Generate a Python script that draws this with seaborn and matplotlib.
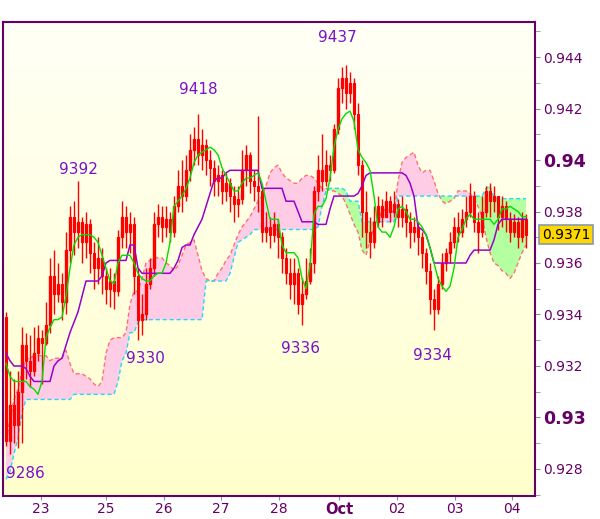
import numpy as np
import pandas as pd
import matplotlib
matplotlib.use("Agg")
import matplotlib.pyplot as plt
import seaborn as sns
from matplotlib.colors import LinearSegmentedColormap

# ==========================================
# Data (prices in pips: 9371 -> 0.9371)
# ==========================================
first_open = 9339

close = [9291, 9305, 9297, 9310, 9328, 9322, 9318, 9325, 9331, 9329,
         9336, 9355, 9348, 9352, 9345, 9365, 9378, 9372, 9376, 9368,
         9375, 9364, 9358, 9362, 9355, 9350, 9353, 9349, 9370, 9378,
         9372, 9375, 9355, 9338, 9340, 9352, 9358, 9375, 9378, 9374,
         9377, 9372, 9382, 9390, 9386, 9396, 9404, 9408, 9402, 9406,
         9400, 9397, 9392, 9394, 9388, 9391, 9386, 9383, 9385, 9396,
         9402, 9392, 9390, 9388, 9372, 9374, 9371, 9375, 9370, 9362,
         9356, 9352, 9356, 9344, 9348, 9353, 9360, 9388, 9396, 9392,
         9398, 9396, 9412, 9428, 9432, 9426, 9430, 9418, 9398, 9380,
         9372, 9368, 9376, 9382, 9378, 9384, 9380, 9383, 9378, 9381,
         9376, 9372, 9374, 9370, 9364, 9357, 9346, 9342, 9352, 9360,
         9364, 9368, 9374, 9372, 9377, 9380, 9386, 9376, 9372, 9380,
         9388, 9384, 9386, 9378, 9382, 9377, 9372, 9376, 9370, 9377,
         9371]

high = [9341, 9318, 9315, 9318, 9335, 9333, 9332, 9335, 9336, 9334,
        9345, 9362, 9365, 9360, 9356, 9372, 9382, 9384, 9392, 9378,
        9380, 9377, 9368, 9370, 9366, 9358, 9358, 9356, 9373, 9384,
        9382, 9380, 9378, 9358, 9348, 9358, 9362, 9380, 9383, 9382,
        9382, 9380, 9386, 9396, 9400, 9402, 9410, 9413, 9418, 9412,
        9408, 9404, 9400, 9398, 9396, 9395, 9393, 9390, 9390, 9404,
        9406, 9403, 9396, 9417, 9390, 9380, 9378, 9380, 9377, 9372,
        9366, 9362, 9362, 9358, 9354, 9362, 9366, 9390, 9402, 9410,
        9404, 9402, 9414, 9432, 9436, 9437, 9434, 9432, 9422, 9400,
        9388, 9378, 9382, 9386, 9385, 9388, 9386, 9388, 9385, 9386,
        9383, 9380, 9378, 9376, 9372, 9366, 9360, 9350, 9355, 9364,
        9366, 9372, 9378, 9380, 9381, 9386, 9391, 9388, 9380, 9386,
        9390, 9391, 9390, 9386, 9386, 9384, 9380, 9379, 9378, 9380,
        9379]

low = [9289, 9286, 9290, 9288, 9290, 9315, 9312, 9316, 9322, 9313,
       9328, 9333, 9340, 9345, 9338, 9340, 9360, 9363, 9366, 9360,
       9362, 9356, 9350, 9352, 9348, 9344, 9343, 9342, 9347, 9366,
       9366, 9364, 9348, 9330, 9332, 9338, 9350, 9355, 9370, 9368,
       9370, 9368, 9370, 9380, 9380, 9384, 9392, 9398, 9398, 9396,
       9394, 9390, 9386, 9386, 9383, 9384, 9380, 9376, 9378, 9383,
       9390, 9387, 9384, 9380, 9368, 9368, 9366, 9368, 9362, 9356,
       9352, 9346, 9344, 9340, 9336, 9346, 9352, 9356, 9384, 9388,
       9390, 9392, 9395, 9410, 9422, 9420, 9422, 9412, 9394, 9370,
       9366, 9362, 9366, 9374, 9374, 9378, 9376, 9378, 9374, 9374,
       9370, 9366, 9368, 9363, 9358, 9352, 9340, 9334, 9340, 9350,
       9357, 9360, 9366, 9368, 9370, 9374, 9378, 9372, 9364, 9370,
       9378, 9378, 9380, 9373, 9374, 9372, 9368, 9370, 9366, 9368,
       9366]

tenkan = [9321, 9316, 9314, 9314, 9314, 9314, 9312, 9311, 9309, 9314,
          9331, 9335, 9338, 9338, 9339, 9347, 9358, 9367, 9370, 9371,
          9371, 9371, 9370, 9368, 9363, 9358, 9353, 9352, 9360, 9363,
          9363, 9363, 9360, 9356, 9354, 9353, 9353, 9355, 9356, 9356,
          9360, 9368, 9382, 9384, 9386, 9389, 9393, 9399, 9402, 9403,
          9404, 9405, 9404, 9402, 9397, 9394, 9391, 9388, 9388, 9391,
          9393, 9393, 9394, 9395, 9391, 9384, 9377, 9377, 9377, 9367,
          9364, 9364, 9364, 9362, 9354, 9350, 9359, 9379, 9382, 9382,
          9385, 9393, 9405, 9412, 9416, 9418, 9419, 9415, 9404, 9401,
          9399, 9396, 9386, 9374, 9372, 9372, 9370, 9374, 9381, 9382,
          9380, 9377, 9377, 9376, 9374, 9371, 9366, 9360, 9354, 9351,
          9349, 9351, 9358, 9370, 9373, 9377, 9379, 9377, 9377, 9377,
          9377, 9377, 9375, 9377, 9381, 9381, 9382, 9381, 9380, 9378,
          9378]

kijun = [9325, 9322, 9320, 9320, 9320, 9319, 9316, 9314, 9314, 9314,
         9314, 9314, 9320, 9322, 9323, 9328, 9333, 9337, 9341, 9347,
         9353, 9353, 9353, 9353, 9355, 9360, 9361, 9361, 9361, 9361,
         9361, 9367, 9367, 9358, 9356, 9356, 9356, 9356, 9356, 9356,
         9356, 9356, 9358, 9361, 9366, 9367, 9367, 9371, 9374, 9377,
         9382, 9387, 9392, 9393, 9393, 9395, 9396, 9396, 9396, 9396,
         9396, 9396, 9396, 9396, 9389, 9389, 9389, 9389, 9389, 9389,
         9384, 9384, 9384, 9380, 9376, 9376, 9376, 9376, 9375, 9375,
         9375, 9381, 9386, 9386, 9386, 9386, 9386, 9386, 9387, 9390,
         9394, 9395, 9395, 9395, 9395, 9395, 9395, 9395, 9395, 9395,
         9394, 9391, 9386, 9374, 9373, 9371, 9366, 9360, 9360, 9360,
         9360, 9360, 9360, 9360, 9360, 9360, 9363, 9365, 9365, 9365,
         9365, 9365, 9369, 9375, 9377, 9377, 9377, 9377, 9377, 9377,
         9377]

span_a = [9291, 9299, 9307, 9311, 9318, 9323, 9323, 9324, 9324, 9324,
          9324, 9322, 9323, 9323, 9323, 9326, 9321, 9317, 9317, 9317,
          9316, 9315, 9313, 9312, 9314, 9325, 9330, 9331, 9331, 9331,
          9333, 9344, 9349, 9349, 9354, 9360, 9361, 9362, 9362, 9362,
          9360, 9359, 9357, 9359, 9363, 9367, 9368, 9369, 9363, 9357,
          9354, 9353, 9353, 9356, 9358, 9361, 9363, 9367, 9371, 9374,
          9376, 9378, 9381, 9384, 9386, 9390, 9395, 9397, 9398, 9395,
          9393, 9392, 9391, 9391, 9393, 9394, 9394, 9393, 9391, 9389,
          9389, 9388, 9388, 9387, 9386, 9383, 9379, 9375, 9372, 9365,
          9363, 9369, 9374, 9377, 9380, 9381, 9381, 9379, 9392, 9399,
          9401, 9402, 9403, 9398, 9395, 9396, 9396, 9392, 9387, 9384,
          9383, 9384, 9385, 9388, 9388, 9388, 9387, 9385, 9382, 9378,
          9370, 9364, 9360, 9359, 9357, 9356, 9354, 9356, 9360, 9364,
          9367]

span_b = [9276, 9279, 9286, 9292, 9302, 9307, 9307, 9307, 9307, 9307,
          9307, 9307, 9307, 9307, 9307, 9307, 9307, 9309, 9309, 9309,
          9309, 9309, 9309, 9309, 9309, 9309, 9309, 9309, 9314, 9322,
          9325, 9333, 9333, 9337, 9338, 9338, 9338, 9338, 9338, 9338,
          9338, 9338, 9338, 9338, 9338, 9338, 9338, 9338, 9338, 9338,
          9353, 9353, 9353, 9353, 9353, 9353, 9356, 9362, 9368, 9369,
          9370, 9371, 9373, 9373, 9373, 9373, 9373, 9373, 9373, 9373,
          9373, 9373, 9373, 9373, 9373, 9373, 9373, 9373, 9374, 9382,
          9388, 9389, 9389, 9389, 9389, 9388, 9384, 9384, 9384, 9376,
          9376, 9376, 9376, 9376, 9376, 9376, 9376, 9376, 9386, 9386,
          9386, 9386, 9386, 9386, 9386, 9386, 9386, 9386, 9386, 9386,
          9386, 9386, 9386, 9386, 9386, 9386, 9386, 9386, 9386, 9386,
          9389, 9390, 9385, 9385, 9385, 9385, 9385, 9385, 9385, 9385,
          9385]

day_labels = ['23', '25', '26', '27', '28', 'Oct', '02', '03', '04']
day_pos = [8.75, 25, 39.5, 53.75, 68.25, 83.25, 97.75, 112.25, 126.5]

y_ticks = [0.928, 0.930, 0.932, 0.934, 0.936, 0.938, 0.940, 0.942, 0.944]
y_tick_labels = ['0.928', '0.93', '0.932', '0.934', '0.936', '0.938', '0.94', '0.942', '0.944']
bold_labels = ['0.93', '0.94']

# swing high / low labels: (bar, which)
swings = [(1, 'low'), (18, 'high'), (33, 'low'), (48, 'high'),
          (74, 'low'), (85, 'high'), (107, 'low')]
swing_offsets = [(15, -20), (0, 11), (7, -18), (0, 24), (-2, -24), (-9, 27), (-2, -26)]

last_price = 0.9371

# ==========================================
# Build frame
# ==========================================
df = pd.DataFrame({'close': close, 'high': high, 'low': low,
                   'tenkan': tenkan, 'kijun': kijun,
                   'span_a': span_a, 'span_b': span_b}) / 10000.0
df['open'] = np.r_[first_open / 10000.0, df['close'].values[:-1]]
df['bar'] = np.arange(len(df))

PURPLE = '#660066'

fig = plt.figure(figsize=(6.0, 5.19), dpi=100)
ax = fig.add_axes([0.005, 0.0443, 0.8867, 0.9133])

xmin, xmax = -0.75, 132.25
ymin, ymax = 0.92695, 0.94536

# background gradient
cmap = LinearSegmentedColormap.from_list('bg', ['#FFFFF6', '#FFFFCC'])
ax.imshow(np.linspace(0, 1, 256).reshape(-1, 1), extent=[xmin, xmax, ymin, ymax],
          aspect='auto', cmap=cmap, zorder=0)

x = df['bar'].values
a = df['span_a'].values
b = df['span_b'].values

# cloud
ax.fill_between(x, a, b, where=a >= b, interpolate=True, color='#FFCCE6', lw=0, zorder=1)
ax.fill_between(x, a, b, where=a < b, interpolate=True, color='#B4FFA0', lw=0, zorder=1)
sns.lineplot(data=df, x='bar', y='span_a', ax=ax, color='#FF7070', lw=1.0,
             linestyle=(0, (3, 2)), zorder=2)
sns.lineplot(data=df, x='bar', y='span_b', ax=ax, color='#22D8FF', lw=1.0,
             linestyle=(0, (3, 2)), zorder=2)

# candles
up = df['close'] >= df['open']
ax.vlines(x, df['low'], df['high'], color='#FF0000', lw=1.0, zorder=3)
body_h = (df['close'] - df['open']).abs().clip(lower=0.00002)
body_b = df[['open', 'close']].min(axis=1)
ax.bar(x[~up], body_h[~up], bottom=body_b[~up], width=0.7, color='#FF0000',
       edgecolor='#FF0000', lw=0.8, zorder=3)
ax.bar(x[up], body_h[up], bottom=body_b[up], width=0.7, fill=False,
       edgecolor='#FF0000', lw=1.0, zorder=3)

# conversion / base lines
sns.lineplot(data=df, x='bar', y='kijun', ax=ax, color='#9900CC', lw=1.1, zorder=4)
sns.lineplot(data=df, x='bar', y='tenkan', ax=ax, color='#00DD00', lw=1.0, zorder=5)

# swing labels
for (bar, which), (dx, dy) in zip(swings, swing_offsets):
    val = df.loc[bar, which]
    ax.annotate(f"{int(round(val * 10000))}", xy=(bar, val), xytext=(dx, dy),
                textcoords='offset pixels', ha='center', va='center',
                fontsize=11, color='#7A10C8', zorder=6)

ax.set_xlim(xmin, xmax)
ax.set_ylim(ymin, ymax)
ax.set_xlabel('')
ax.set_ylabel('')

# axes styling
for sp in ax.spines.values():
    sp.set_color(PURPLE)
    sp.set_linewidth(1.5)

ax.yaxis.tick_right()
ax.set_yticks(y_ticks)
ax.set_yticklabels(y_tick_labels)
ax.set_yticks(np.arange(0.927, 0.9455, 0.001), minor=True)
ax.tick_params(axis='y', which='both', direction='out', colors='#8890A0',
               labelcolor=PURPLE, labelsize=10, pad=2, length=3.6)
for lbl in ax.get_yticklabels():
    if lbl.get_text() in bold_labels:
        lbl.set_fontweight('bold')
        lbl.set_fontsize(12.5)

ax.set_xticks(day_pos)
ax.set_xticklabels(day_labels)
ax.tick_params(axis='x', direction='out', length=3, colors='#8890A0',
               labelcolor=PURPLE, labelsize=10, pad=1)
for lbl in ax.get_xticklabels():
    if lbl.get_text() == 'Oct':
        lbl.set_fontweight('bold')
        lbl.set_fontsize(10.5)

# last price marker
ax.annotate(f"{last_price:.4f}", xy=(1.0, last_price), xycoords=('axes fraction', 'data'),
            xytext=(7, 0), textcoords='offset pixels', ha='left', va='center',
            fontsize=10, color='black', annotation_clip=False,
            bbox=dict(boxstyle='square,pad=0.2', fc='#FFD700', ec='#8899AA', lw=1.2))

fig.savefig('out.png', dpi=100, facecolor='white')
